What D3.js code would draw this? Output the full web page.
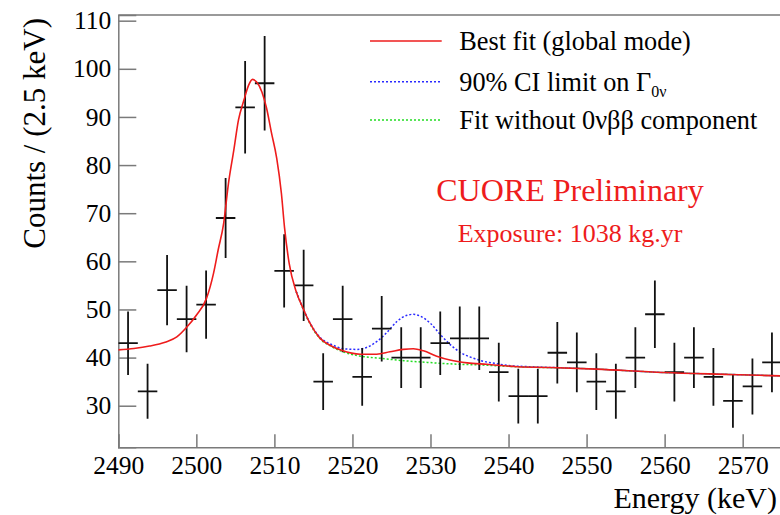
<!DOCTYPE html>
<html><head><meta charset="utf-8">
<script src="https://cdn.jsdelivr.net/npm/d3@7"></script>
<style>
body{margin:0;background:#fff}
svg{display:block}
text{font-family:"Liberation Serif","Times New Roman",Times,serif;fill:#000}
</style>
</head><body>
<svg id="chart" width="780" height="515"></svg>
<script>
// ---------- data ----------
const binCenters = [2491.25,2493.75,2496.25,2498.75,2501.25,2503.75,2506.25,2508.75,2511.25,2513.75,
  2516.25,2518.75,2521.25,2523.75,2526.25,2528.75,2531.25,2533.75,2536.25,2538.75,
  2541.25,2543.75,2546.25,2548.75,2551.25,2553.75,2556.25,2558.75,2561.25,2563.75,
  2566.25,2568.75,2571.25,2573.75];
const counts = [43,33,54,48,51,69,92,97,58,55,35,48,36,46,40,40,43,44,44,37,32,32,41,39,35,33,40,49,37,40,36,31,34,39];
const countErrors = [6.6,5.7,7.3,6.9,7.1,8.3,9.6,9.8,7.6,7.4,5.9,6.9,6.0,6.8,6.3,6.3,6.6,6.6,6.6,6.1,5.7,5.7,6.4,6.2,5.9,5.7,6.3,7.0,6.1,6.3,6.0,5.6,5.8,6.2];
const binHalfWidth = 1.25;

const fitEnergy = [2490.0,2492.0,2494.0,2496.0,2497.5,2498.7,2500.0,2501.3,2502.2,2502.8,2503.5,2504.1,2504.8,2505.4,2506.1,2506.7,2507.2,2507.7,2508.4,2509.0,2509.6,2510.3,2510.9,2511.3,2511.9,2512.8,2513.6,2514.5,2515.8,2517.3,2518.6,2521.0,2523.1,2524.8,2526.5,2527.8,2529.1,2530.8,2532.5,2534.7,2537.2,2541.1,2545.4,2551.3,2559.8,2568.3,2575.0];
const fitBest   = [41.6,41.9,42.4,43.2,44.3,46.2,48.8,52.3,57.5,62.4,67.9,76.0,83.1,89.4,93.5,96.6,97.8,97.3,95.2,91.8,86.9,81.4,74.1,67.0,59.5,53.7,50.5,47.3,44.1,42.4,41.5,40.7,40.7,41.2,41.7,41.85,41.4,40.3,39.5,38.9,38.6,38.1,37.95,37.6,36.9,36.5,36.2];

const ciEnergy = [2512.8,2514.5,2515.8,2517.5,2518.8,2520.5,2521.8,2523.1,2524.4,2525.7,2527.0,2527.8,2528.7,2530.0,2531.3,2532.6,2533.9,2535.2,2536.5,2538.2,2540.3,2542.9,2550.0,2559.8,2568.3,2575.0];
const ciLimit  = [53.7,47.4,44.3,42.6,41.85,41.7,42.1,43.3,45.2,47.5,48.8,49.0,48.6,47.1,44.7,42.6,41.0,40.05,39.35,38.8,38.3,38.1,37.7,36.9,36.5,36.2];

const noSigEnergy = [2512.8,2514.5,2515.8,2517.3,2518.8,2521.0,2523.6,2526.6,2529.6,2533.1,2536.5,2541.1,2550.0,2559.8,2568.3,2575.0];
const noSigFit    = [53.7,47.2,44.0,42.3,41.2,40.3,39.85,39.35,39.0,38.65,38.45,38.1,37.7,36.9,36.5,36.2];

const xMajorTicks = [2490,2500,2510,2520,2530,2540,2550,2560,2570];
const yMajorTicks = [30,40,50,60,70,80,90,100,110];
const xDomain = [2490,2575];
const yDomain = [21.36,111.18];

const legendLabels = ["Best fit (global mode)","90% CI limit on Γ","Fit without 0νββ component"];
const legendSub = "0ν";
const titleText = "CUORE Preliminary";
const exposureText = "Exposure: 1038 kg.yr";
const xTitle = "Energy (keV)";
const yTitle = "Counts / (2.5 keV)";

// ---------- layout ----------
const red = "#ee1c1c", blue = "#2a2aff", green = "#22dd22", axisGrey = "#7a7a7a";
const svg = d3.select("#chart");
const x = d3.scaleLinear().domain(xDomain).range([118.3,781.7]);
const y = d3.scaleLinear().domain(yDomain).range([447.3,15]);
const [x0,x1] = x.range(), [y0,y1] = y.range();

svg.append("defs").append("clipPath").attr("id","plotclip")
  .append("rect").attr("x",x0).attr("y",y1).attr("width",x1-x0).attr("height",y0-y1);

// frame (top & right)
svg.append("path").attr("d",`M${x0},${y1}H${x1}V${y0}`)
  .attr("fill","none").attr("stroke",axisGrey).attr("stroke-width",1.5);

// x axis
const gx = svg.append("g").attr("transform",`translate(0,${y0})`);
gx.call(d3.axisBottom(x).tickValues(d3.range(2490,2575,2)).tickSize(-6.5).tickFormat(""));
gx.call(d3.axisBottom(x).tickValues(xMajorTicks).tickSize(-13).tickPadding(9).tickFormat(d3.format("d")));
gx.selectAll("path.domain").attr("stroke",axisGrey).attr("stroke-width",1.5);
gx.selectAll(".tick line").attr("stroke",axisGrey).attr("stroke-width",1.5);
gx.selectAll(".tick text").attr("font-size",25.5).attr("fill","#000")
  .attr("font-family",'"Liberation Serif",serif');

// y axis
const gy = svg.append("g").attr("transform",`translate(${x0},0)`);
gy.call(d3.axisLeft(y).tickValues(d3.range(22,112,2)).tickSize(-9).tickFormat(""));
gy.call(d3.axisLeft(y).tickValues(yMajorTicks).tickSize(-18).tickPadding(7).tickFormat(d3.format("d")));
gy.selectAll("path.domain").attr("stroke",axisGrey).attr("stroke-width",1.5);
gy.selectAll(".tick line").attr("stroke",axisGrey).attr("stroke-width",1.5);
gy.selectAll(".tick text").attr("font-size",25.5).attr("fill","#000")
  .attr("font-family",'"Liberation Serif",serif');

// axis titles
svg.append("text").attr("x",777).attr("y",508).attr("text-anchor","end")
  .attr("font-size",30).text(xTitle);
svg.append("text").attr("transform","translate(45,18) rotate(-90)").attr("text-anchor","end")
  .attr("font-size",31).text(yTitle);

// curves
const plot = svg.append("g").attr("clip-path","url(#plotclip)");
const line = d3.line().x(d=>x(d[0])).y(d=>y(d[1])).curve(d3.curveMonotoneX);
plot.append("path").datum(d3.zip(noSigEnergy,noSigFit)).attr("d",line)
  .attr("fill","none").attr("stroke",green).attr("stroke-width",1.5).attr("stroke-dasharray","2,2");
plot.append("path").datum(d3.zip(ciEnergy,ciLimit)).attr("d",line)
  .attr("fill","none").attr("stroke",blue).attr("stroke-width",1.5).attr("stroke-dasharray","2,2");

// data points with error bars
const pts = plot.append("g").attr("stroke","#111").attr("stroke-width",1.8);
binCenters.forEach((e,i)=>{
  pts.append("line").attr("x1",x(e)).attr("x2",x(e))
    .attr("y1",y(counts[i]-countErrors[i])).attr("y2",y(counts[i]+countErrors[i]));
  pts.append("line").attr("x1",x(e-binHalfWidth)).attr("x2",x(e+binHalfWidth))
    .attr("y1",y(counts[i])).attr("y2",y(counts[i]));
});

plot.append("path").datum(d3.zip(fitEnergy,fitBest)).attr("d",line)
  .attr("fill","none").attr("stroke",red).attr("stroke-width",1.6);

// legend
const legY = [41,81.7,120];
const legStyle = [{c:red,d:null},{c:blue,d:"2,2"},{c:green,d:"2,2"}];
legendLabels.forEach((lab,i)=>{
  svg.append("line").attr("x1",370).attr("x2",441.7).attr("y1",legY[i]).attr("y2",legY[i])
    .attr("stroke",legStyle[i].c).attr("stroke-width",1.5)
    .attr("stroke-dasharray",legStyle[i].d);
  const t = svg.append("text").attr("x",459.3).attr("y",legY[i]+9).attr("font-size",26.3).text(lab);
  if(i===1){ t.append("tspan").attr("font-size",16).attr("dy",6).text(legendSub); }
});

svg.append("text").attr("x",570).attr("y",201).attr("text-anchor","middle")
  .attr("font-size",32).style("fill",red).text(titleText);
svg.append("text").attr("x",570).attr("y",242).attr("text-anchor","middle")
  .attr("font-size",26).style("fill",red).text(exposureText);
</script>
</body></html>
